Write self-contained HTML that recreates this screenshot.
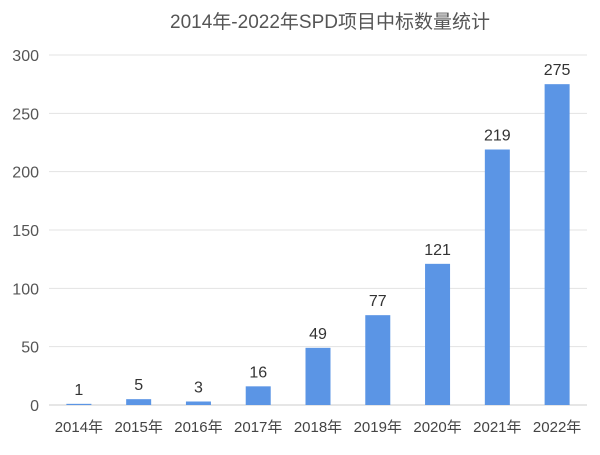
<!DOCTYPE html>
<html><head><meta charset="utf-8"><style>
body{margin:0;background:#fff;font-family:"Liberation Sans","Noto Sans CJK SC",sans-serif}
</style></head><body>
<svg id="c" width="600" height="450" xmlns="http://www.w3.org/2000/svg" font-family="Liberation Sans, Noto Sans CJK SC, sans-serif">
<text x="330" y="28" text-anchor="middle" font-size="19" fill="#555">2014年-2022年SPD项目中标数量统计</text>
</svg>
<script>
const categories=["2014年","2015年","2016年","2017年","2018年","2019年","2020年","2021年","2022年"];
const values=[1,5,3,16,49,77,121,219,275];
const yTicks=[0,50,100,150,200,250,300];
const svg=document.getElementById('c');
const NS='http://www.w3.org/2000/svg';
const left=49,right=587,y0=405,yTop=55,yMax=300;
const band=(right-left)/categories.length;
const y=v=>y0-(v/yMax)*(y0-yTop);
const x=i=>left+band*(i+0.5);
function mk(t,a){const e=document.createElementNS(NS,t);for(const k in a)e.setAttribute(k,a[k]);svg.appendChild(e);return e;}
yTicks.forEach(t=>{
  const g=mk('line',{x1:left,x2:right,y1:y(t),y2:y(t),stroke:t===0?'#ccc':'#e3e3e3','stroke-width':1});
  
  
  const l=mk('text',{x:39,y:y(t)+6,'text-anchor':'end','font-size':16,fill:'#555'});
  l.textContent=t;
  
  
});
categories.forEach((c,i)=>{
  const b=mk('rect',{x:x(i)-12.5,y:y(values[i]),width:25,height:y0-y(values[i]),fill:'#5b95e5'});
  
  
  const v=mk('text',{x:x(i),y:y(values[i])-9,'text-anchor':'middle','font-size':16,fill:'#333'});
  v.textContent=values[i];
  
  
  const l=mk('text',{x:x(i),y:432,'text-anchor':'middle','font-size':15,fill:'#444'});
  l.textContent=c;
  
  
});
</script>
</body></html>
